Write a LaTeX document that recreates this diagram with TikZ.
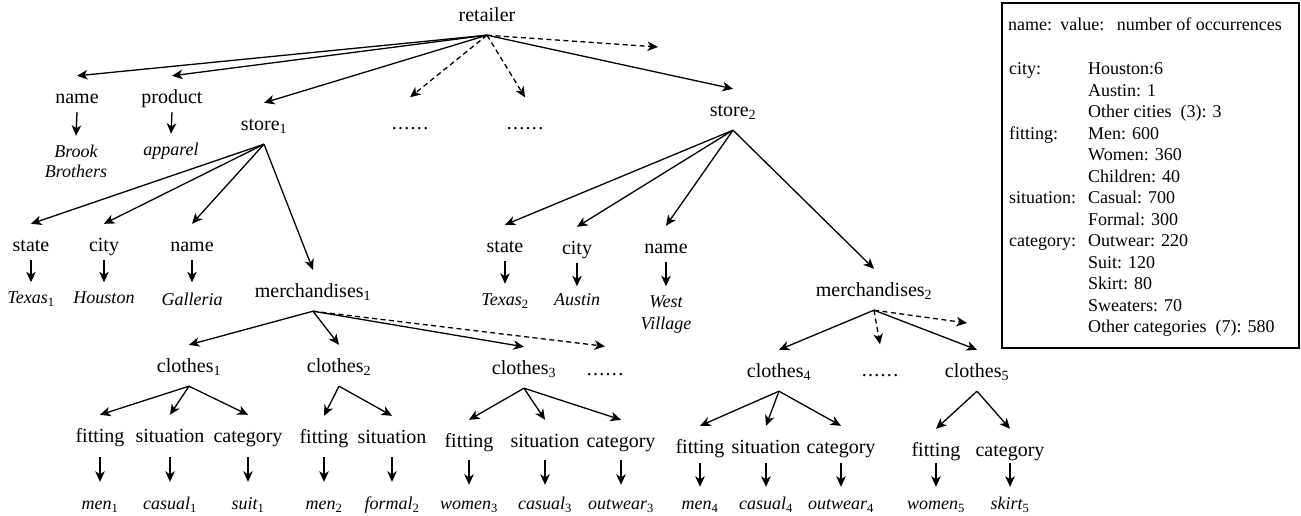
\documentclass[tikz,border=0pt]{standalone}
\usepackage{fontspec}
\setmainfont{Liberation Serif}
\usetikzlibrary{arrows.meta,calc}
\tikzset{
  lab/.style={inner sep=0pt, font=\fontsize{20}{22}\selectfont, text height=14pt, text depth=5pt},
  leaf/.style={inner sep=0pt, font=\fontsize{18}{21}\selectfont\itshape, text height=13pt, text depth=4pt},
  leg/.style={inner sep=0pt, anchor=west, font=\fontsize{18}{20}\selectfont, text height=13pt, text depth=4pt},
  arr/.style={line width=1.3pt, -{Stealth[length=10.5pt,width=9.5pt,inset=3pt]}},
  darr/.style={arr, dash pattern=on 5pt off 3.5pt},
  frame/.style={line width=1.5pt},
}
\newcommand\sbs[1]{\textsubscript{\upshape #1}}
\newcommand\dts{.\kern1.3pt.\kern1.3pt.\kern1.3pt.\kern1.3pt.\kern1.3pt.}
% tree edge: parent -> child
\newcommand\tr[3][arr]{\draw[#1] ([yshift=-8.5pt]#2.south) -- ([yshift=13.5pt]#3.north);}
% vertical edge: label -> leaf
\newcommand\vr[4]{\draw[arr] ([yshift=-#3pt]#1.south) -- ([yshift=#4pt]#2.north);}
\begin{document}
\begin{tikzpicture}[x=1pt,y=-1pt]
\useasboundingbox (0,0) rectangle (1301,515);

% ---- level 0/1
\node[lab] (retailer) at (487,17) {retailer};
\node[lab] (n0) at (77,99) {name};
\node[lab] (prod) at (172,99) {product};
\node[lab] (s1) at (264,126) {store\sbs{1}};
\node[lab] (d1) at (410,125) {\dts};
\node[lab] (d2) at (525,125) {\dts};
\coordinate (e1) at (658,47);
\node[lab] (s2) at (733,112) {store\sbs{2}};

\tr{retailer}{n0}
\tr{retailer}{prod}
\tr{retailer}{s1}
\draw[darr] ([yshift=-8.5pt]retailer.south) -- ([yshift=18pt]d1.north);
\draw[darr] ([yshift=-8.5pt]retailer.south) -- ([yshift=18pt]d2.north);
\draw[darr] ([yshift=-8.5pt]retailer.south) -- (e1);
\tr{retailer}{s2}

\node[leaf] (brook) at (76,153) {Brook};
\node[leaf] (brothers) at (76,173) {Brothers};
\node[leaf] (apparel) at (171,151) {apparel};
\vr{n0}{brook}{3.5}{8.5}
\vr{prod}{apparel}{3.5}{8.5}

% ---- store 1
\node[lab] (st1) at (31,247) {state};
\node[lab] (ci1) at (104,247) {city};
\node[lab] (na1) at (192,247) {name};
\node[lab] (m1) at (313,293) {merchandises\sbs{1}};
\tr{s1}{st1}
\tr{s1}{ci1}
\tr{s1}{na1}
\tr{s1}{m1}
\node[leaf] (tx1) at (31,299) {Texas\sbs{1}};
\node[leaf] (hou) at (104,299) {Houston};
\node[leaf] (gal) at (192,301) {Galleria};
\vr{st1}{tx1}{3.5}{8}
\vr{ci1}{hou}{3.5}{8}
\vr{na1}{gal}{3.5}{10}

% ---- store 2
\node[lab] (st2) at (505,248) {state};
\node[lab] (ci2) at (577,250) {city};
\node[lab] (na2) at (666,249) {name};
\node[lab] (m2) at (874,292) {merchandises\sbs{2}};
\tr{s2}{st2}
\tr{s2}{ci2}
\tr{s2}{na2}
\tr{s2}{m2}
\node[leaf] (tx2) at (505,301) {Texas\sbs{2}};
\node[leaf] (aus) at (577,301) {Austin};
\node[leaf] (west) at (666,303) {West};
\node[leaf] (village) at (666,325) {Village};
\vr{st2}{tx2}{3}{8.5}
\vr{ci2}{aus}{3}{6}
\vr{na2}{west}{3.5}{8}

% ---- merchandises 1
\node[lab] (c1) at (189,368) {clothes\sbs{1}};
\node[lab] (c2) at (339,368) {clothes\sbs{2}};
\node[lab] (c3) at (524,370) {clothes\sbs{3}};
\node[lab] (d3) at (605,371) {\dts};
\tr{m1}{c1}
\tr{m1}{c2}
\tr{m1}{c3}
\draw[darr] ([yshift=-8.5pt]m1.south) -- ([yshift=15pt]d3.north);

% ---- merchandises 2
\node[lab] (c4) at (779,373) {clothes\sbs{4}};
\node[lab] (d4) at (880,372) {\dts};
\node[lab] (c5) at (977,373) {clothes\sbs{5}};
\coordinate (e2) at (967,323);
\tr{m2}{c4}
\draw[darr] ([yshift=-8.5pt]m2.south) -- ([yshift=18pt]d4.north);
\draw[darr] ([yshift=-8.5pt]m2.south) -- (e2);
\tr{m2}{c5}

% ---- attribute rows
\node[lab] (f1) at (100,438) {fitting};
\node[lab] (si1) at (170,438) {situation};
\node[lab] (ca1) at (248,438) {category};
\node[lab] (f2) at (324,439) {fitting};
\node[lab] (si2) at (392,439) {situation};
\node[lab] (f3) at (469,443) {fitting};
\node[lab] (si3) at (545,443) {situation};
\node[lab] (ca3) at (621,443) {category};
\node[lab] (f4) at (700,449) {fitting};
\node[lab] (si4) at (766,449) {situation};
\node[lab] (ca4) at (841,449) {category};
\node[lab] (f5) at (936,452) {fitting};
\node[lab] (ca5) at (1010,452) {category};
\tr{c1}{f1} \tr{c1}{si1} \tr{c1}{ca1}
\tr{c2}{f2} \tr{c2}{si2}
\tr{c3}{f3} \tr{c3}{si3} \tr{c3}{ca3}
\tr{c4}{f4} \tr{c4}{si4} \tr{c4}{ca4}
\tr{c5}{f5} \tr{c5}{ca5}

% ---- leaves
\node[leaf] (l1) at (100,505) {men\sbs{1}};
\node[leaf] (l2) at (170,505) {casual\sbs{1}};
\node[leaf] (l3) at (248,505) {suit\sbs{1}};
\node[leaf] (l4) at (324,505) {men\sbs{2}};
\node[leaf] (l5) at (392,505) {formal\sbs{2}};
\node[leaf] (l6) at (469,505) {women\sbs{3}};
\node[leaf] (l7) at (545,505) {casual\sbs{3}};
\node[leaf] (l8) at (621,505) {outwear\sbs{3}};
\node[leaf] (l9) at (700,505) {men\sbs{4}};
\node[leaf] (l10) at (766,505) {casual\sbs{4}};
\node[leaf] (l11) at (841,505) {outwear\sbs{4}};
\node[leaf] (l12) at (936,505) {women\sbs{5}};
\node[leaf] (l13) at (1010,505) {skirt\sbs{5}};
\vr{f1}{l1}{9.5}{14.5}
\vr{si1}{l2}{9.5}{14.5}
\vr{ca1}{l3}{9.5}{14.5}
\vr{f2}{l4}{8.5}{14.5}
\vr{si2}{l5}{8.5}{14.5}
\vr{f3}{l6}{7.5}{11.5}
\vr{si3}{l7}{7.5}{11.5}
\vr{ca3}{l8}{7.5}{11.5}
\vr{f4}{l9}{4.5}{9.5}
\vr{si4}{l10}{4.5}{9.5}
\vr{ca4}{l11}{4.5}{9.5}
\vr{f5}{l12}{1.5}{9.5}
\vr{ca5}{l13}{1.5}{9.5}

% ---- legend
\draw[frame] (1002,3) rectangle (1299,348);
\node[leg] (hd) at (1008,26) {name:\hspace{0.45em}value:\hspace{0.7em}number of occurrences};
\node[leg] (kc) at (1009,70) {city:};
\node[leg] (kf) at (1009,134.5) {fitting:};
\node[leg] (ks) at (1009,199) {situation:};
\node[leg] (kk) at (1009,242) {category:};
\node[leg] (v1) at (1088,70) {Houston:6};
\node[leg] (v2) at (1088,91.5) {Austin: 1};
\node[leg] (v3) at (1088,113) {Other cities\hspace{0.5em}(3): 3};
\node[leg] (v4) at (1088,134.5) {Men: 600};
\node[leg] (v5) at (1088,156) {Women: 360};
\node[leg] (v6) at (1088,177.5) {Children: 40};
\node[leg] (v7) at (1088,199) {Casual: 700};
\node[leg] (v8) at (1088,220.5) {Formal: 300};
\node[leg] (v9) at (1088,242) {Outwear: 220};
\node[leg] (v10) at (1088,263.5) {Suit: 120};
\node[leg] (v11) at (1088,285) {Skirt: 80};
\node[leg] (v12) at (1088,306.5) {Sweaters: 70};
\node[leg] (v13) at (1088,328) {Other categories\hspace{0.5em}(7): 580};
\end{tikzpicture}
\end{document}
